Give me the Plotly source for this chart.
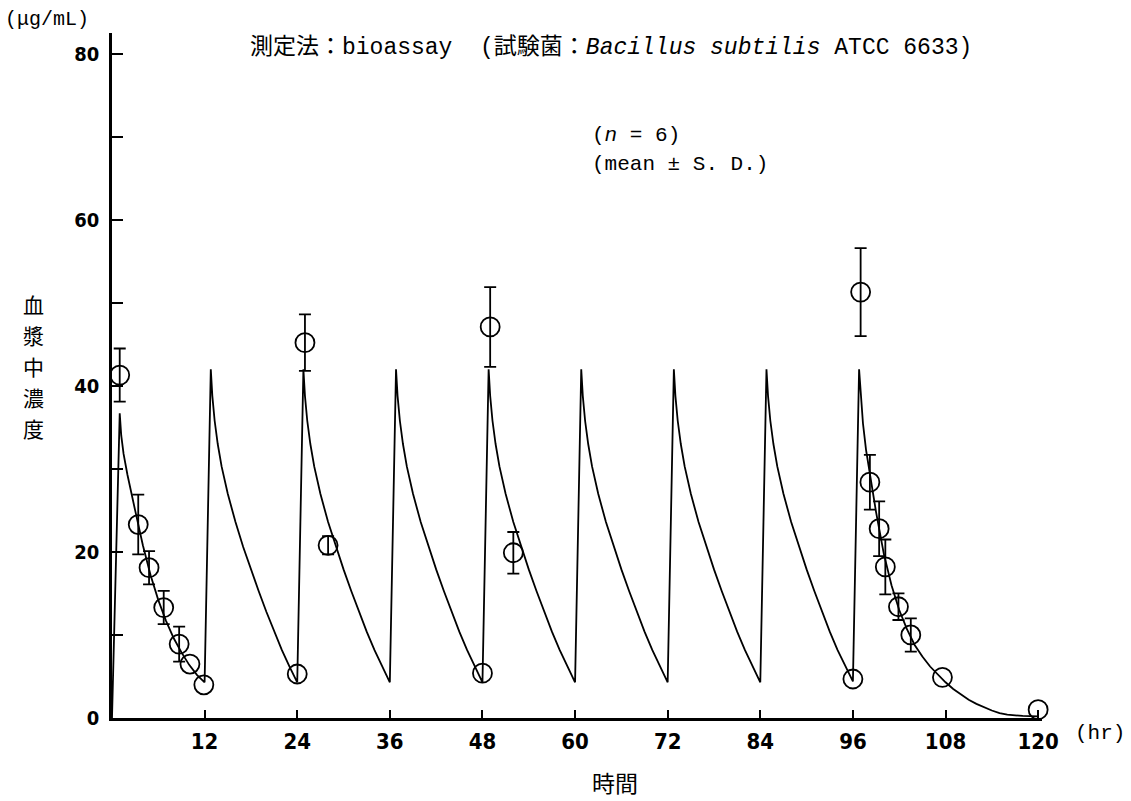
import plotly.graph_objects as go

# ---- fitted curve -------------------------------------------------------
# first dose (0-12 hr)
FIRST_T = [0, 1.0, 1.2, 1.5, 2, 2.5, 3, 4, 5, 6, 7, 8, 9, 10, 11, 12]
FIRST_C = [0, 36.7, 34.0, 31.8, 29.3, 27.0, 25.0, 20.8, 17.2, 14.2, 11.7, 9.6, 7.9, 6.4, 5.2, 4.3]

# repeated dosing interval: hours after each dose, concentration
SS_DT = [0, 0.8, 1.0, 1.3, 1.7, 2.2, 3, 4, 5, 6, 7, 8, 9, 10, 11, 12]
SS_C = [4.3, 42.0, 38.8, 35.8, 33.0, 30.3, 27.0, 23.6, 20.6, 17.9, 15.3, 12.8, 10.4, 8.2, 6.2, 4.4]
SS_DOSES = [12, 24, 36, 48, 60, 72, 84]

# last dose and washout (96-120 hr)
LAST_T = [96, 96.8, 97, 97.3, 97.7, 98.2, 99, 100, 101, 102, 103, 104, 105, 106, 107, 108,
          109, 110, 111, 112, 113, 114, 115, 116, 118, 120]
LAST_C = [4.4, 42.0, 38.8, 35.5, 32.3, 29.3, 24.8, 19.8, 16.0, 13.0, 10.7, 8.8, 7.4, 6.2, 5.2, 4.3,
          3.5, 2.8, 2.2, 1.7, 1.25, 0.9, 0.6, 0.4, 0.25, 0.2]

# ---- measured plasma levels (mean ± S.D.) -------------------------------
OBS_T = [1, 3.4, 4.8, 6.7, 8.7, 25, 28, 49, 52, 97, 98.2, 99.4, 100.2, 101.9, 103.5]
OBS_C = [41.3, 23.3, 18.1, 13.3, 8.9, 45.2, 20.8, 47.1, 19.9, 51.3, 28.4, 22.8, 18.2, 13.4, 10.0]
OBS_SD = [3.2, 3.6, 2.0, 2.0, 2.1, 3.4, 1.1, 4.8, 2.5, 5.3, 3.3, 3.3, 3.3, 1.6, 2.0]

# points whose S.D. bar is hidden inside the symbol
PT_T = [10.1, 11.9, 24, 48, 96, 107.6, 120]
PT_C = [6.5, 4.0, 5.3, 5.4, 4.7, 4.9, 1.0]

X_TICKS = [12, 24, 36, 48, 60, 72, 84, 96, 108, 120]
Y_TICKS = [0, 10, 20, 30, 40, 50, 60, 70, 80]
Y_LABELS = ["0", "", "20", "", "40", "", "60", "", "80"]
Y_TITLE_CHARS = ["血", "漿", "中", "濃", "度"]

# assemble curve
curve_t = list(FIRST_T)
curve_c = list(FIRST_C)
for d in SS_DOSES:
    curve_t += [d + dt for dt in SS_DT]
    curve_c += SS_C
curve_t += LAST_T
curve_c += LAST_C

fig = go.Figure()

fig.add_trace(go.Scatter(
    x=curve_t, y=curve_c, mode="lines",
    line=dict(color="black", width=1.8),
    hoverinfo="skip", showlegend=False, cliponaxis=False,
))

marker_style = dict(symbol="circle-open", size=19, color="black",
                    line=dict(color="black", width=1.8))

fig.add_trace(go.Scatter(
    x=OBS_T, y=OBS_C, mode="markers", marker=marker_style,
    error_y=dict(type="data", array=OBS_SD, visible=True,
                 color="black", thickness=1.8, width=6),
    showlegend=False, cliponaxis=False,
))

fig.add_trace(go.Scatter(
    x=PT_T, y=PT_C, mode="markers", marker=marker_style,
    showlegend=False, cliponaxis=False,
))

tick_font = dict(family="Liberation Sans Narrow, DejaVu Sans Condensed, sans-serif",
                 size=22, color="black", weight="bold")
text_font = "Liberation Mono, Noto Sans CJK JP, monospace"
cjk_font = "Noto Sans CJK JP, sans-serif"

fig.update_xaxes(
    range=[0, 120.5], showgrid=False, zeroline=False,
    showline=True, linecolor="black", linewidth=2.5,
    ticks="inside", ticklen=8, tickwidth=2, tickcolor="black",
    tickvals=X_TICKS, ticktext=[str(v) for v in X_TICKS],
    tickfont=tick_font, ticklabelstandoff=2,
)
fig.update_yaxes(
    range=[0, 82.5], showgrid=False, zeroline=False,
    showline=True, linecolor="black", linewidth=2.5,
    ticks="inside", ticklen=11, tickwidth=2, tickcolor="black",
    tickvals=Y_TICKS, ticktext=Y_LABELS,
    tickfont=dict(tick_font, size=20), ticklabelstandoff=6,
)

annotations = [
    dict(text="(μg/mL)", x=3, y=19, xanchor="left", yanchor="middle",
         font=dict(family=text_font, size=20, color="black")),
    dict(text="測定法：bioassay  (試験菌：<i>Bacillus subtilis</i> ATCC 6633)",
         x=248, y=47, xanchor="left", yanchor="middle",
         font=dict(family=text_font, size=23, color="black")),
    dict(text="(<i>n</i> = 6)", x=590, y=135, xanchor="left", yanchor="middle",
         font=dict(family=text_font, size=21, color="black")),
    dict(text="(mean ± S. D.)", x=590, y=165, xanchor="left", yanchor="middle",
         font=dict(family=text_font, size=21, color="black")),
    dict(text="(hr)", x=1073, y=733, xanchor="left", yanchor="middle",
         font=dict(family=text_font, size=21, color="black")),
    dict(text="時間", x=615, y=782, xanchor="center", yanchor="middle",
         font=dict(family=cjk_font, size=23, color="black")),
]
# vertical y-axis title, stacked one character at a time
for i, ch in enumerate(Y_TITLE_CHARS):
    annotations.append(dict(text=ch, x=33, y=304 + i * 31, xanchor="center",
                            yanchor="middle",
                            font=dict(family=cjk_font, size=21, color="black")))

W, H = 1131, 801
L, R, T, B = 112, 89, 33, 83
for a in annotations:
    # place by pixel position on the page
    a["x"] = (a["x"] - L) / (W - L - R)
    a["y"] = (H - B - a["y"]) / (H - T - B)
    a.update(xref="paper", yref="paper", showarrow=False)

fig.update_layout(
    width=W, height=H,
    margin=dict(l=L, r=R, t=T, b=B),
    paper_bgcolor="white", plot_bgcolor="white",
    annotations=annotations,
)

fig.write_html("out.html")
